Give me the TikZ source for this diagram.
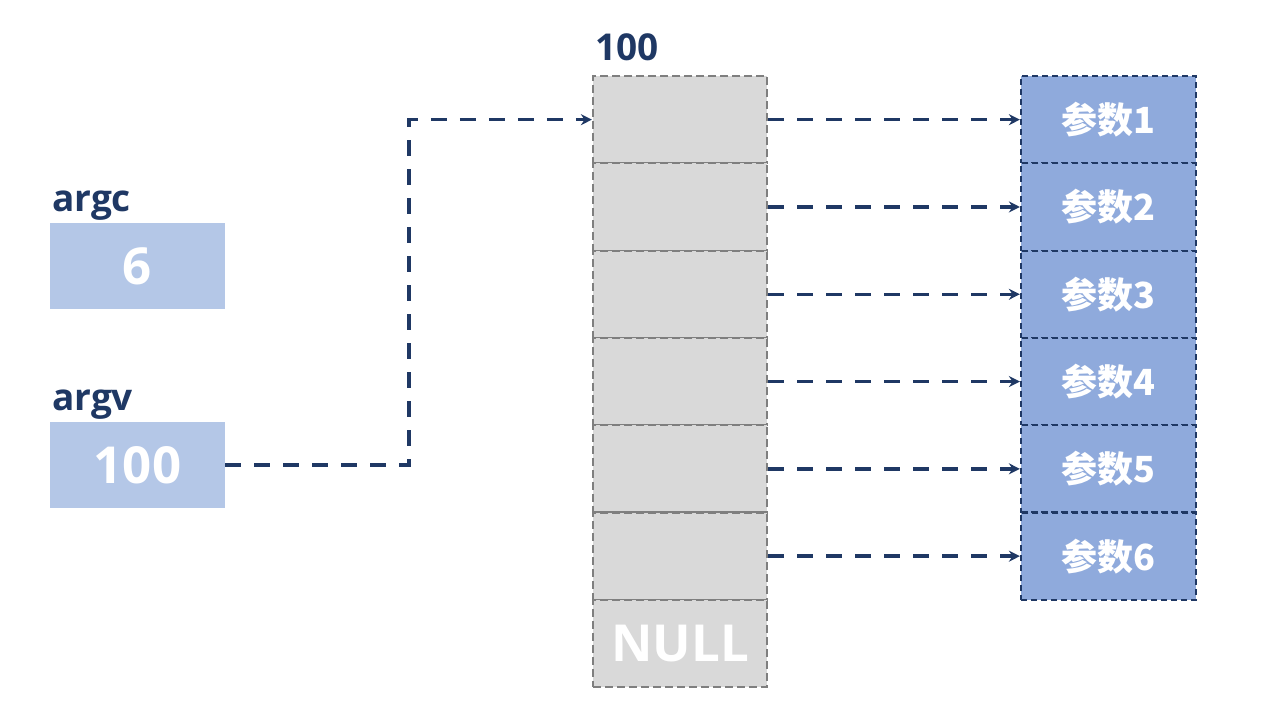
\documentclass[tikz,border=0pt]{standalone}
\usepackage{fontspec}
\setmainfont{Open Sans}
\newfontfamily\cjk{Noto Sans CJK SC}
\usetikzlibrary{arrows.meta}
\definecolor{navy}{HTML}{1F3864}
\definecolor{lblue}{HTML}{B4C7E7}
\definecolor{mblue}{HTML}{8FAADC}
\definecolor{cellgray}{HTML}{D9D9D9}
\definecolor{bordergray}{HTML}{7F7F7F}
\tikzset{
  lbl/.style={anchor=base west, inner sep=0pt, text=navy, font=\fontsize{37}{40}\selectfont\bfseries},
  valbox/.style={fill=lblue, minimum width=175pt, minimum height=86pt, inner sep=0pt, text=white, font=\fontsize{51}{54}\selectfont\bfseries},
  arrcell/.style={fill=cellgray, draw=bordergray, line width=2.2pt, dash pattern=on 8pt off 4pt, minimum width=174pt, minimum height=87.3pt, inner sep=0pt, text=white, font=\fontsize{51}{56}\selectfont\bfseries},
  parcell/.style={fill=mblue, draw=navy, line width=2.2pt, dash pattern=on 6pt off 4pt, minimum width=175pt, minimum height=87.3pt, inner sep=0pt, text=white, font=\fontsize{36}{40}\selectfont\bfseries\cjk},
  conn/.style={draw=navy, line width=3.5pt, dash pattern=on 16pt off 13pt, -{Stealth[length=11pt,width=11pt]}}
}
\begin{document}
\begin{tikzpicture}[x=1pt,y=-1pt]
\useasboundingbox (0,0) rectangle (1262,724);
% left variables
\node[lbl] (argclbl) at (52,211) {argc};
\node[valbox] (argc) at (137.5,266) {6};
\node[lbl] (argvlbl) at (52,410) {argv};
\node[valbox] (argv) at (137.5,465) {100};
% array
\node[lbl] (addr) at (595,60) {100};
\foreach \i in {1,...,6} {
  \node[arrcell] (a\i) at (680,{76+87.3*(\i-0.5)}) {};
}
\node[arrcell] (a7) at (680,{76+87.3*6.5}) {NULL};
% parameter strings
\foreach \i in {1,...,6} {
  \node[parcell] (p\i) at (1108.5,{76+87.3*(\i-0.5)}) {参数\i};
}
% connectors
\foreach \i in {1,...,6} {
  \draw[conn] (a\i.east) -- (p\i.west);
}
\coordinate (k) at (409,0);
\draw[conn] (argv.east) -- (argv.east -| k) -- (k |- a1.west) -- (a1.west);
\end{tikzpicture}
\end{document}
